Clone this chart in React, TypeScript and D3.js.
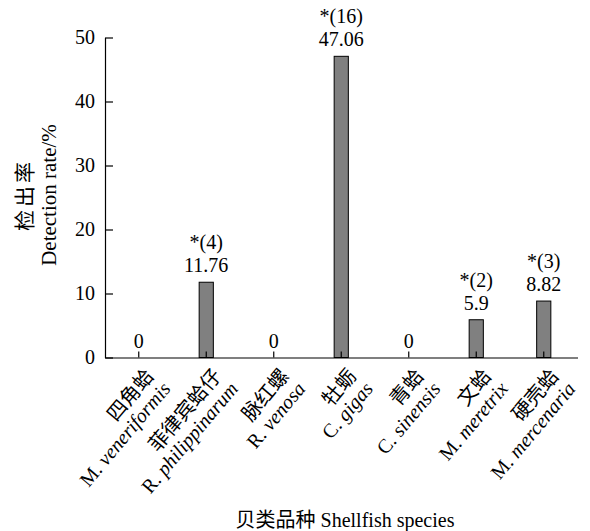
import React, { useRef, useEffect } from "react";
import * as d3 from "d3";

const speciesZh = ["四角蛤", "菲律宾蛤仔", "脉红螺", "牡蛎", "青蛤", "文蛤", "硬壳蛤"];
const genusAbbr = ["M.", "R.", "R.", "C.", "C.", "M.", "M."];
const speciesEpithet = ["veneriformis", "philippinarum", "venosa", "gigas", "sinensis", "meretrix", "mercenaria"];
const detectionRate = [0, 11.76, 0, 47.06, 0, 5.9, 8.82];
const positiveCount = [0, 4, 0, 16, 0, 2, 3];
const yTicks = [0, 10, 20, 30, 40, 50];

const FONT = "'Liberation Serif', 'Times New Roman', 'Noto Sans CJK SC', serif";

const App = () => {
    const chart = useRef<SVGSVGElement>(null);

    useEffect(() => {
        const width = 590;
        const height = 531;
        const margin = { top: 37.5, right: 12.5, bottom: 173.5, left: 105 };

        const svg = d3.select(chart.current)
            .attr("width", width)
            .attr("height", height)
            .style("font-family", FONT);
        svg.selectAll("*").remove();

        const x = d3.scaleBand<number>()
            .domain(d3.range(detectionRate.length))
            .range([margin.left, width - margin.right])
            .padding(0);
        const y = d3.scaleLinear()
            .domain([0, 50])
            .range([height - margin.bottom, margin.top]);

        const barW = x.bandwidth() * 0.21;

        // bars (zero values draw nothing)
        svg.append("g")
            .selectAll("rect")
            .data(detectionRate.map((v, i) => ({ v, i })).filter(d => d.v > 0))
            .join("rect")
            .attr("x", d => x(d.i)! + x.bandwidth() / 2 - barW / 2)
            .attr("y", d => y(d.v))
            .attr("width", barW)
            .attr("height", d => y(0) - y(d.v))
            .attr("fill", "#808080")
            .attr("stroke", "#000")
            .attr("stroke-width", 1);

        // y axis, ticks pointing inward
        const yAxis = svg.append("g")
            .attr("transform", "translate(" + margin.left + ",0)")
            .call(d3.axisLeft(y).tickValues(yTicks).tickSizeInner(-8).tickSizeOuter(0).tickPadding(10));
        yAxis.selectAll("text")
            .attr("font-size", 20)
            .attr("font-family", FONT)
            .attr("fill", "#000");
        yAxis.selectAll("line, path").attr("stroke", "#000").attr("stroke-width", 1.2);

        // x axis, short ticks pointing up
        const xAxis = svg.append("g")
            .attr("transform", "translate(0," + y(0) + ")")
            .call(d3.axisBottom(x).tickSizeInner(-6).tickSizeOuter(0).tickFormat(() => ""));
        xAxis.selectAll("line, path").attr("stroke", "#000").attr("stroke-width", 1.2);

        // value labels above bars
        const labels = svg.append("g")
            .attr("font-size", 20)
            .attr("text-anchor", "middle")
            .attr("fill", "#000");
        detectionRate.forEach((v, i) => {
            const cx = x(i)! + x.bandwidth() / 2;
            labels.append("text")
                .attr("x", cx)
                .attr("y", y(v) - 10)
                .text(String(v));
            if (positiveCount[i] > 0) {
                labels.append("text")
                    .attr("x", cx)
                    .attr("y", y(v) - 33)
                    .text("*(" + positiveCount[i] + ")");
            }
        });

        // rotated category labels
        const cats = svg.append("g")
            .attr("font-size", 20)
            .attr("fill", "#000");
        speciesZh.forEach((name, i) => {
            const cx = x(i)! + x.bandwidth() / 2;
            const g = cats.append("g")
                .attr("transform", "translate(" + (cx + 16) + "," + (y(0) + 19) + ") rotate(-50)");
            g.append("text")
                .attr("text-anchor", "end")
                .attr("font-size", 20)
                .text(name);
            const t = g.append("text")
                .attr("text-anchor", "end")
                .attr("x", 1)
                .attr("y", 21);
            t.append("tspan").text(genusAbbr[i] + " ");
            t.append("tspan").attr("font-style", "italic").text(speciesEpithet[i]);
        });

        // axis titles
        const yTitle = svg.append("g")
            .attr("transform", "translate(0,195) rotate(-90)")
            .attr("text-anchor", "middle")
            .attr("font-size", 21)
            .attr("fill", "#000");
        yTitle.append("text").attr("x", 0).attr("y", 32).attr("letter-spacing", 3).text("检出率");
        yTitle.append("text").attr("x", 0).attr("y", 56).text("Detection rate/%");

        svg.append("text")
            .attr("x", 345)
            .attr("y", 527)
            .attr("text-anchor", "middle")
            .attr("font-size", 20)
            .attr("fill", "#000")
            .text("贝类品种 Shellfish species");
    });

    return (
        <svg ref={chart} style={{ position: "absolute", left: 0, top: 0, background: "#fff" }} />
    );
};

export default App;
